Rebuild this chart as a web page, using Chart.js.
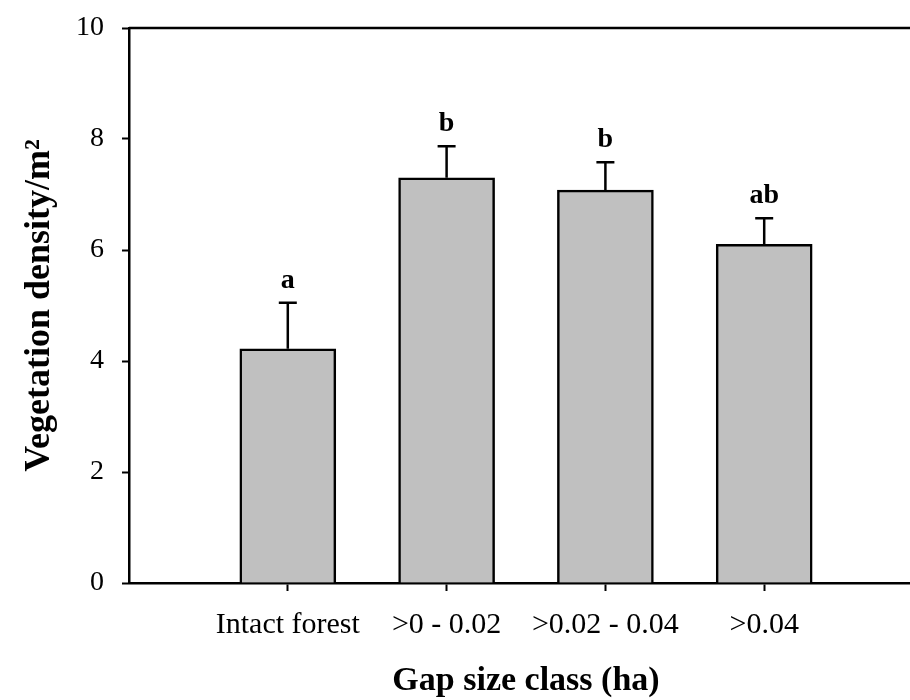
<!DOCTYPE html>
<html>
<head>
<meta charset="utf-8">
<script src="https://cdn.jsdelivr.net/npm/chart.js@4/dist/chart.umd.min.js"></script>
<style>
  html, body { margin: 0; padding: 0; background: #fff; overflow: hidden; }
  #wrap { width: 910px; height: 700px; overflow: hidden; }
</style>
</head>
<body>
<div id="wrap"><canvas id="gap-chart" width="940" height="700"></canvas></div>
<script>
// data
var categories = ['Intact forest', '>0 - 0.02', '>0.02 - 0.04', '>0.04'];
var densityMeans = [4.22, 7.30, 7.08, 6.10];
var densityErrors = [0.83, 0.57, 0.50, 0.47];
var groupLetters = ['a', 'b', 'b', 'ab'];
var yTicks = [0, 2, 4, 6, 8, 10];

var serif = "'Liberation Serif', 'Times New Roman', serif";

// error bars, significance letters and the closing frame
var errorBarPlugin = {
    id: 'errorBars',
    afterDatasetsDraw: function(chart) {
        var ctx = chart.ctx;
        var yScale = chart.scales.y;
        var bars = chart.getDatasetMeta(0).data;
        ctx.save();
        ctx.strokeStyle = '#000';
        ctx.lineWidth = 2.5;
        bars.forEach(function(bar, i) {
            var top = yScale.getPixelForValue(densityMeans[i] + densityErrors[i]);
            ctx.beginPath();
            ctx.moveTo(bar.x, bar.y);
            ctx.lineTo(bar.x, top);
            ctx.moveTo(bar.x - 9, top);
            ctx.lineTo(bar.x + 9, top);
            ctx.stroke();

            ctx.fillStyle = '#000';
            ctx.font = 'bold 28px ' + serif;
            ctx.textAlign = 'center';
            ctx.textBaseline = 'alphabetic';
            ctx.fillText(groupLetters[i], bar.x, top - 15);
        });
        var area = chart.chartArea;
        ctx.beginPath();
        ctx.moveTo(area.left, area.top);
        ctx.lineTo(area.right, area.top);
        ctx.lineTo(area.right, area.bottom);
        ctx.stroke();
        ctx.restore();
    }
};

var ctx = document.getElementById('gap-chart').getContext('2d');
var gapChart = new Chart(ctx, {
    type: 'bar',
    data: {
        datasets: [{
            data: densityMeans.map(function(v, i) { return { x: i + 1, y: v }; }),
            backgroundColor: '#c0c0c0',
            borderColor: '#000',
            borderWidth: 2.5,
            barThickness: 96
        }]
    },
    options: {
        responsive: false,
        animation: false,
        devicePixelRatio: 1,
        layout: { padding: { top: 28, right: 17, left: 0, bottom: 0 } },
        plugins: {
            legend: { display: false },
            tooltip: { enabled: false }
        },
        scales: {
            x: {
                type: 'linear',
                offset: false,
                min: 0,
                max: 5,
                afterBuildTicks: function(scale) {
                    scale.ticks = categories.map(function(c, i) { return { value: i + 1 }; });
                },
                afterFit: function(scale) {
                    scale.height = 117;
                    scale.paddingTop = 0;
                    scale.paddingBottom = 0;
                },
                ticks: {
                    autoSkip: false,
                    maxRotation: 0,
                    padding: 16,
                    color: '#000',
                    font: { family: serif, size: 30 },
                    callback: function(value) { return categories[value - 1]; }
                },
                grid: { offset: false, drawOnChartArea: false, tickLength: 8, tickWidth: 2, color: '#000' },
                border: { display: true, color: '#000', width: 2.5 },
                title: {
                    display: true,
                    text: 'Gap size class (ha)',
                    color: '#000',
                    font: { family: serif, size: 34, weight: 'bold', lineHeight: 1 },
                    padding: { top: 0, bottom: 2 }
                }
            },
            y: {
                min: 0,
                max: 10,
                afterBuildTicks: function(scale) {
                    scale.ticks = yTicks.map(function(v) { return { value: v }; });
                },
                afterFit: function(scale) {
                    scale.width = 129;
                    scale.paddingTop = 0;
                    scale.paddingBottom = 0;
                },
                ticks: {
                    padding: 18,
                    color: '#000',
                    font: { family: serif, size: 28 }
                },
                grid: { drawOnChartArea: false, tickLength: 7, tickWidth: 2, color: '#000' },
                border: { display: true, color: '#000', width: 2.5 },
                title: {
                    display: true,
                    text: 'Vegetation density/m\u00B2',
                    color: '#000',
                    font: { family: serif, size: 36, weight: 'bold', lineHeight: 1.2 },
                    padding: { top: 18, bottom: 0 }
                }
            }
        }
    },
    plugins: [errorBarPlugin]
});
</script>
</body>
</html>
